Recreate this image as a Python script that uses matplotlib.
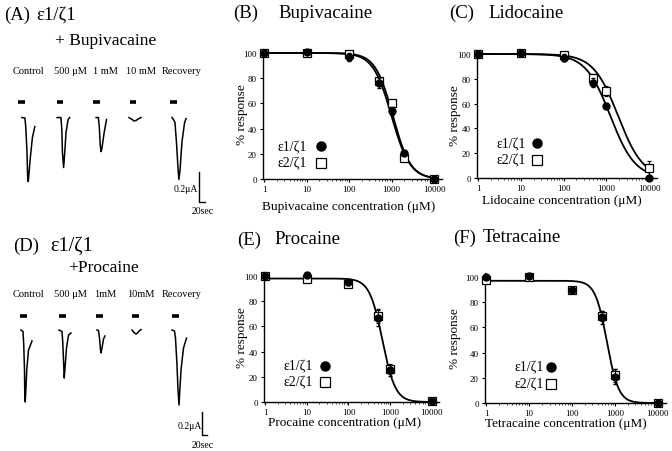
import numpy as np
import matplotlib
matplotlib.use("Agg")
import matplotlib.pyplot as plt

plt.rcParams['font.family'] = ['Liberation Serif', 'DejaVu Serif']

W, H = 672, 452

# ---------------- data: dose-response ----------------
conc_B = [1, 10, 100, 500, 1000, 2000, 10000]
bupi_e1 = [100, 101, 97, 76, 54, 21, 0]
bupi_e1_err = [1, 1, 3, 4, 3, 2, 0]
bupi_e2 = [100, 100, 99, 78, 60, 17, 0]
bupi_e2_err = [1, 1, 2, 3, 3, 2, 0]
bupi_fit_e1 = (100, 1000, 2.0)   # top, IC50 (uM), Hill coefficient
bupi_fit_e2 = (100, 1080, 2.1)

conc_C = [1, 10, 100, 500, 1000, 10000]
lido_e1 = [100, 101, 97, 77, 58, 0]
lido_e1_err = [1, 1, 3, 4, 2, 1]
lido_e2 = [100, 101, 99, 81, 70, 8]
lido_e2_err = [1, 1, 2, 3, 4, 6]
lido_fit_e1 = (100, 1250, 1.5)
lido_fit_e2 = (100, 1900, 1.5)

conc_E = [1, 10, 100, 500, 1000, 10000]
proc_e1 = [100, 101, 95, 67, 25, 1]
proc_e1_err = [1, 1, 2, 7, 4, 1]
proc_e2 = [100, 98, 94, 68, 26, 1]
proc_e2_err = [1, 2, 2, 5, 4, 1]
proc_fit = (98, 650, 2.8)

conc_F = [1, 10, 100, 500, 1000, 10000]
tetra_e1 = [100, 101, 90, 68, 21, 0]
tetra_e1_err = [1, 1, 2, 5, 6, 1]
tetra_e2 = [98, 100, 90, 69, 22, 0]
tetra_e2_err = [1, 1, 2, 4, 5, 1]
tetra_fit = (97, 650, 3.2)

xtick_vals = [1, 10, 100, 1000, 10000]
xtick_labels = ['1', '10', '100', '1000', '10000']
ytick_vals = [0, 20, 40, 60, 80, 100]

# ---------------- data: current traces (time s, current uA) ----------------
trace_labels = ['Control', '500 \u03bcM', '1 mM', '10 mM', 'Recovery']
trace_labels_D = ['Control', '500 \u03bcM', '1mM', '10mM', 'Recovery']

bupi_ctrl_t = [0, 10, 13, 17, 19, 21, 23, 28, 35, 43]
bupi_ctrl_i = [0, -0.003, -0.067, -0.233, -0.387, -0.427, -0.387, -0.267, -0.133, -0.06]
bupi_500_t = [0, 13, 16, 18, 22, 25, 30, 37, 42]
bupi_500_i = [0, 0, -0.08, -0.233, -0.333, -0.253, -0.1, -0.013, 0]
bupi_1m_t = [0, 8, 11, 14, 17, 20, 27, 35]
bupi_1m_i = [0, 0, -0.067, -0.187, -0.227, -0.2, -0.1, -0.013]
bupi_10m_t = [0, 10, 17, 23, 30, 40]
bupi_10m_i = [0, -0.013, -0.023, -0.02, -0.01, 0]
bupi_rec_t = [0, 5, 10, 15, 20, 23, 27, 33, 42, 47]
bupi_rec_i = [0, -0.013, -0.033, -0.167, -0.333, -0.413, -0.347, -0.167, -0.033, -0.007]

proc_ctrl_t = [0, 8, 11, 14, 15, 17, 19, 23, 30, 44]
proc_ctrl_i = [0, -0.013, -0.13, -0.348, -0.539, -0.626, -0.539, -0.348, -0.174, -0.096]
proc_500_t = [0, 12, 15, 18, 21, 24, 30, 38, 48]
proc_500_i = [0, -0.013, -0.104, -0.261, -0.418, -0.331, -0.157, -0.044, -0.026]
proc_1m_t = [0, 6, 10, 14, 16, 20, 26, 32]
proc_1m_i = [0, -0.004, -0.07, -0.174, -0.2, -0.157, -0.078, -0.052]
proc_10m_t = [0, 8, 16, 22, 28, 36]
proc_10m_i = [0, -0.022, -0.035, -0.026, -0.009, 0.004]
proc_rec_t = [0, 10, 14, 20, 24, 28, 31, 36, 46, 58]
proc_rec_i = [0, -0.009, -0.07, -0.305, -0.522, -0.653, -0.539, -0.348, -0.157, -0.07]

fig = plt.figure(figsize=(W / 100, H / 100), dpi=100)


def px_axes(x0, y0, x1, y1):
    return fig.add_axes([x0 / W, 1 - y1 / H, (x1 - x0) / W, (y1 - y0) / H])


def ftext(x, y, s, **kw):
    fig.text(x / W, 1 - y / H, s, **kw)


def hill(x, p):
    top, ic50, n = p
    return top / (1 + (x / ic50) ** n)


def dose_panel(rect, conc, e1, e1err, e2, e2err, fits, xlabel, ylab_x, xlab_xy,
               leg_tx, leg_mx, leg_y):
    ax = px_axes(*rect)
    ax.set_xscale('log')
    ax.set_xlim(0.92, 15000)
    ax.set_ylim(0, 103)
    for sp in ['top', 'right']:
        ax.spines[sp].set_visible(False)
    for sp in ['left', 'bottom']:
        ax.spines[sp].set_linewidth(1.0)
    xs = np.logspace(0, 4, 300)
    for p in fits:
        ax.plot(xs, hill(xs, p), color='black', lw=1.3, zorder=2, clip_on=False)
    ax.errorbar(conc, e2, yerr=e2err, fmt='s', ms=5.5, mfc='white', mec='black',
                mew=0.9, ecolor='black', elinewidth=0.7, capsize=1.5, zorder=3,
                clip_on=False)
    ax.errorbar(conc, e1, yerr=e1err, fmt='o', ms=5, mfc='black', mec='black',
                ecolor='black', elinewidth=0.7, capsize=1.5, zorder=4, clip_on=False)
    ax.set_xticks(xtick_vals)
    ax.set_xticklabels(xtick_labels)
    ax.set_yticks(ytick_vals)
    ax.tick_params(axis='both', which='major', labelsize=6.5, length=2.5, width=0.8,
                   pad=1.5)
    ax.tick_params(axis='x', which='minor', length=1.5, width=0.5)
    ax.set_xlabel(xlabel, fontsize=9.5)
    ax.set_ylabel('% response', fontsize=9.5)
    ax.yaxis.set_label_coords(ylab_x, 0.5)
    ax.xaxis.set_label_coords(*xlab_xy)
    ax.text(leg_tx, leg_y[0], '\u03b51/\u03b61', fontsize=10, va='center', ha='left')
    ax.text(leg_tx, leg_y[1], '\u03b52/\u03b61', fontsize=10, va='center', ha='left')
    ax.plot([leg_mx], [leg_y[0]], 'o', ms=6.5, color='black', clip_on=False)
    ax.plot([leg_mx], [leg_y[1]], 's', ms=6.5, mfc='white', mec='black', mew=0.9,
            clip_on=False)
    return ax


dose_panel((262.5, 50.2, 441.5, 180), conc_B, bupi_e1, bupi_e1_err, bupi_e2,
           bupi_e2_err, [bupi_fit_e1, bupi_fit_e2],
           'Bupivacaine concentration (\u03bcM)', -0.081, (0.48, -0.162),
           2.1, 22, (26, 12.7))
dose_panel((476.5, 51.3, 656.5, 179), conc_C, lido_e1, lido_e1_err, lido_e2,
           lido_e2_err, [lido_fit_e1, lido_fit_e2],
           'Lidocaine concentration (\u03bcM)', -0.086, (0.475, -0.125),
           2.75, 24, (28, 14.5))
dose_panel((263.5, 273.2, 439.3, 403), conc_E, proc_e1, proc_e1_err, proc_e2,
           proc_e2_err, [proc_fit],
           'Procaine concentration (\u03bcM)', -0.088, (0.46, -0.108),
           2.7, 27, (28.6, 16))
dose_panel((484.5, 274.2, 665.5, 404), conc_F, tetra_e1, tetra_e1_err, tetra_e2,
           tetra_e2_err, [tetra_fit],
           'Tetracaine concentration (\u03bcM)', -0.13, (0.447, -0.105),
           4.5, 32, (28.6, 15))

# ---------------- titles ----------------
tfs = 13.5
ftext(233, 13, '(B)', fontsize=tfs, va='center')
ftext(278, 13, 'Bupivacaine', fontsize=tfs, va='center')
ftext(449, 13, '(C)', fontsize=tfs, va='center')
ftext(488, 13, 'Lidocaine', fontsize=tfs, va='center')
ftext(237, 240, '(E)', fontsize=tfs, va='center')
ftext(274, 240, 'Procaine', fontsize=tfs, va='center')
ftext(453, 238, '(F)', fontsize=tfs, va='center')
ftext(483, 238, 'Tetracaine', fontsize=tfs, va='center')
ftext(4, 15, '(A)', fontsize=tfs, va='center')
ftext(36, 15, '\u03b51/\u03b61', fontsize=tfs, va='center')
ftext(55, 41, '+ Bupivacaine', fontsize=12.5, va='center')
ftext(13, 246, '(D)', fontsize=tfs, va='center')
ftext(50, 246, '\u03b51/\u03b61', fontsize=14.5, va='center')
ftext(68, 268, '+Procaine', fontsize=12.5, va='center')

col_centers_A = [28, 70, 105, 141, 182]
for c, lab in zip(col_centers_A, trace_labels):
    ftext(c, 72, lab, fontsize=7.5, ha='center', va='center')
for c, lab in zip(col_centers_A, trace_labels_D):
    ftext(c, 295, lab, fontsize=7.5, ha='center', va='center')


# ---------------- trace panels ----------------
def trace_panel(rect, xlim, ylim, traces, offsets, bar_x, bar_y, bar_w,
                sb_x, sb_y, sb_t, sb_i, lab_i, lab_t):
    ax = px_axes(*rect)
    ax.set_xlim(*xlim)
    ax.set_ylim(*ylim)
    ax.axis('off')
    for (t, i), off in zip(traces, offsets):
        ax.plot(np.array(t) + off, i, color='black', lw=1.1, solid_joinstyle='round')
    for bx in bar_x:
        ax.plot([bx - bar_w / 2, bx + bar_w / 2], [bar_y, bar_y], color='black',
                lw=2.6, solid_capstyle='butt')
    ax.plot([sb_x, sb_x, sb_x + sb_t], [sb_y, sb_y - sb_i, sb_y - sb_i],
            color='black', lw=1.0)
    ax.text(sb_x - 2, lab_i, '0.2\u03bcA', fontsize=7, ha='right', va='center')
    ax.text(lab_t[0], lab_t[1], '20sec', fontsize=7, ha='left', va='center')


trace_panel((0, 95, 220, 215), (0, 733), (-0.643, 0.157),
            [(bupi_ctrl_t, bupi_ctrl_i), (bupi_500_t, bupi_500_i),
             (bupi_1m_t, bupi_1m_i), (bupi_10m_t, bupi_10m_i),
             (bupi_rec_t, bupi_rec_i)],
            [73, 190, 320, 430, 573], [73, 200, 323, 443, 577], 0.103, 23,
            663, -0.363, 20, 0.2, -0.47, (640, -0.623))

trace_panel((0, 310, 220, 452), (0, 880), (-1.053, 0.183),
            [(proc_ctrl_t, proc_ctrl_i), (proc_500_t, proc_500_i),
             (proc_1m_t, proc_1m_i), (proc_10m_t, proc_10m_i),
             (proc_rec_t, proc_rec_i)],
            [84, 236, 388, 528, 688], [92, 248, 396, 540, 700], 0.122, 28,
            808, -0.713, 20, 0.2, -0.827, (768, -1.0))

fig.savefig('out.png', dpi=100)
